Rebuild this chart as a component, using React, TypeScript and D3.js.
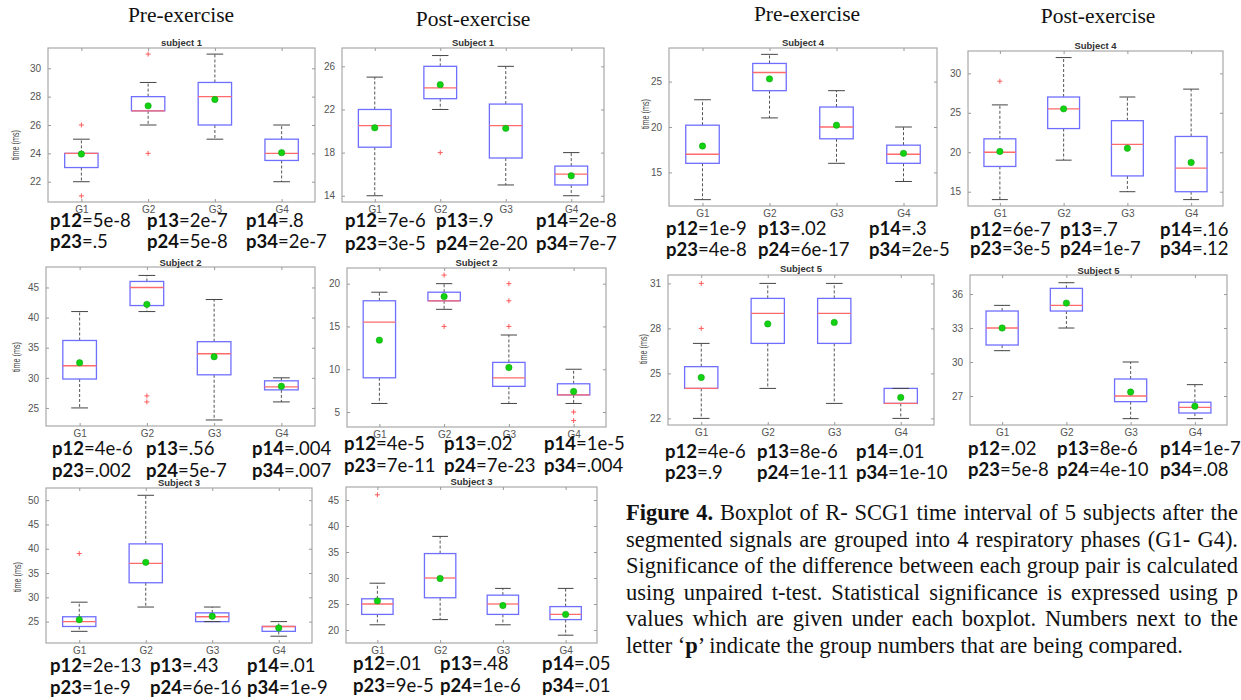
import React, { useEffect, useRef } from "react";
import * as d3 from "d3";

const groups = ["G1", "G2", "G3", "G4"];
const pairs = ["p12", "p13", "p14", "p23", "p24", "p34"];

// each group: [lower whisker, q1, median, q3, upper whisker, mean]
const pre1Stats = [[22, 23, 24, 24, 25, 23.95], [26, 27, 27, 28, 29, 27.35], [25, 26, 28, 29, 31, 27.8], [22, 23.5, 24, 25, 26, 24.05]];
const pre1Out = [[26, 21], [31, 24], [], []];
const pre1P = ["5e-8", "2e-7", ".8", ".5", "5e-8", "2e-7"];
const pre1Ticks = [22, 24, 26, 28, 30];

const post1Stats = [[14, 18.5, 20.5, 22, 25, 20.3], [22, 23, 24, 26, 27, 24.3], [15, 17.5, 20.5, 22.5, 26, 20.25], [14, 15, 16, 16.75, 18, 15.85]];
const post1Out = [[], [18], [], []];
const post1P = ["7e-6", ".9", "2e-8", "3e-5", "2e-20", "7e-7"];
const post1Ticks = [14, 18, 22, 26];

const pre2Stats = [[25, 29.8, 32, 36.2, 41, 32.5], [41, 42, 45, 46, 47, 42.2], [23, 30.5, 34, 36, 43, 33.5], [26, 28, 28.5, 29.5, 30, 28.6]];
const pre2Out = [[], [27, 26], [], []];
const pre2P = ["4e-6", ".56", ".004", ".002", "5e-7", ".007"];
const pre2Ticks = [25, 30, 35, 40, 45];

const post2Stats = [[6, 9, 15.5, 18, 19, 13.4], [17, 18, 18, 19, 20, 18.5], [6, 8, 9, 10.8, 14, 10.2], [6, 7, 7, 8.3, 10, 7.4]];
const post2Out = [[], [21, 15], [20, 18, 15], [5, 4]];
const post2P = ["4e-5", ".02", "1e-5", "7e-11", "7e-23", ".004"];
const post2Ticks = [5, 10, 15, 20];

const pre3Stats = [[23, 24, 25, 26, 29, 25.4], [28, 33, 37, 41, 51, 37.2], [25, 25, 26, 26.8, 28, 26.1], [22, 23, 24, 24, 25, 23.7]];
const pre3Out = [[39], [], [], []];
const pre3P = ["2e-13", ".43", ".01", "1e-9", "6e-16", "1e-9"];
const pre3Ticks = [25, 30, 35, 40, 45, 50];

const post3Stats = [[21, 23, 25, 26, 29, 25.6], [22, 26.2, 30, 34.7, 38, 29.9], [21, 23, 25, 26.7, 28, 24.7], [19, 22, 23, 24.5, 28, 23]];
const post3Out = [[46], [], [], []];
const post3P = [".01", ".48", ".05", "9e-5", "1e-6", ".01"];
const post3Ticks = [20, 25, 30, 35, 40, 45];

const pre4Stats = [[12, 16, 17, 20.2, 23, 17.9], [21, 24, 26, 27, 28, 25.3], [16, 18.7, 20, 22.2, 24, 20.2], [14, 16, 17, 18, 20, 17.1]];
const pre4Out = [[], [], [], []];
const pre4P = ["1e-9", ".02", ".3", "4e-8", "6e-17", "2e-5"];
const pre4Ticks = [15, 20, 25];

const post4Stats = [[14, 18.2, 20, 21.7, 26, 20.1], [19, 23, 25.5, 27, 32, 25.5], [15, 17, 21, 24, 27, 20.5], [14, 15, 18, 22, 28, 18.7]];
const post4Out = [[29], [], [], []];
const post4P = ["6e-7", ".7", ".16", "3e-5", "1e-7", ".12"];
const post4Ticks = [15, 20, 25, 30];

const pre5Stats = [[22, 24, 24, 25.45, 27, 24.73], [24, 27, 29, 30, 31, 28.3], [23, 27, 29, 30, 31, 28.4], [22, 23, 23, 24, 24, 23.4]];
const pre5Out = [[31, 28], [], [], []];
const pre5P = ["4e-6", "8e-6", ".01", ".9", "1e-11", "1e-10"];
const pre5Ticks = [22, 25, 28, 31];

const post5Stats = [[31, 31.5, 33, 34.5, 35, 33], [33, 34.5, 35, 36.5, 37, 35.2], [25, 26.5, 27, 28.5, 30, 27.35], [25, 25.5, 26, 26.45, 28, 26.1]];
const post5Out = [[], [], [], []];
const post5P = [".02", "8e-6", "1e-7", "5e-8", "4e-10", ".08"];
const post5Ticks = [27, 30, 33, 36];

const headers = ["Pre-exercise", "Post-exercise", "Pre-exercise", "Post-exercise"];

const captionLines = [
  [["Figure 4.", true], [" Boxplot of R- SCG1 time interval of 5 subjects after the", false]],
  [["segmented signals are grouped into 4 respiratory phases (G1- G4).", false]],
  [["Significance of the difference between each group pair is calculated", false]],
  [["using unpaired t-test. Statistical significance is expressed using p", false]],
  [["values which are given under each boxplot. Numbers next to the", false]],
  [["letter \u2018", false], ["p", true], ["\u2019 indicate the group numbers that are being compared.", false]],
];

// page layout (frame = [left, top, right, bottom])
const panels = [
  { stats: pre1Stats, out: pre1Out, p: pre1P, ticks: pre1Ticks, title: "subject 1", dom: [20.57, 31.43], frame: [48, 48, 315, 202], titleY: 42, yLab: [15, 145], pX: [50, 147, 246], pY: [227, 248] },
  { stats: post1Stats, out: post1Out, p: post1P, ticks: post1Ticks, title: "Subject 1", dom: [13.42, 27.7], frame: [342, 48, 604, 202], titleY: 42, yLab: null, pX: [345, 436, 536], pY: [227, 250] },
  { stats: pre2Stats, out: pre2Out, p: pre2P, ticks: pre2Ticks, title: "Subject 2", dom: [22.0, 48.4], frame: [46, 267, 315, 426], titleY: 262, yLab: [16, 357], pX: [52, 146, 252], pY: [455, 477] },
  { stats: post2Stats, out: post2Out, p: post2P, ticks: post2Ticks, title: "Subject 2", dom: [3.25, 21.83], frame: [347, 268, 606, 427], titleY: 262, yLab: null, pX: [344, 444, 544], pY: [450, 472] },
  { stats: pre3Stats, out: pre3Out, p: pre3P, ticks: pre3Ticks, title: "Subject 3", dom: [20.6, 52.5], frame: [46, 488, 312, 643], titleY: 482, yLab: [17, 577], pX: [50, 150, 247], pY: [672, 694] },
  { stats: post3Stats, out: post3Out, p: post3P, ticks: post3Ticks, title: "Subject 3", dom: [17.5, 47.5], frame: [346, 487, 597, 643], titleY: 481, yLab: null, pX: [353, 440, 542], pY: [670, 692] },
  { stats: pre4Stats, out: pre4Out, p: pre4P, ticks: pre4Ticks, title: "Subject 4", dom: [11.3, 28.7], frame: [669, 48, 937, 206], titleY: 42, yLab: [645, 114], pX: [666, 758, 869], pY: [235, 256] },
  { stats: post4Stats, out: post4Out, p: post4P, ticks: post4Ticks, title: "Subject 4", dom: [13.19, 32.83], frame: [968, 51, 1223, 206], titleY: 45, yLab: null, pX: [970, 1060, 1160], pY: [236, 255] },
  { stats: pre5Stats, out: pre5Out, p: pre5P, ticks: pre5Ticks, title: "Subject 5", dom: [21.56, 31.56], frame: [668, 275, 934, 425], titleY: 268, yLab: [643, 349], pX: [665, 757, 856], pY: [458, 479] },
  { stats: post5Stats, out: post5Out, p: post5P, ticks: post5Ticks, title: "Subject 5", dom: [24.44, 37.68], frame: [970, 275, 1227, 425], titleY: 270, yLab: null, pX: [968, 1057, 1160], pY: [455, 476] },
];
const headerPos = [[181, 22], [473, 26], [807, 21], [1098, 23]];

const App = () => {
  const svgRef = useRef(null);

  useEffect(() => {
    const svg = d3.select(svgRef.current);
    svg.selectAll("*").remove();

    svg.append("rect").attr("width", 1241).attr("height", 700).attr("fill", "white");

    // column headers
    svg.selectAll("text.hdr")
      .data(headers)
      .join("text")
      .attr("class", "hdr")
      .attr("x", (d, i) => headerPos[i][0])
      .attr("y", (d, i) => headerPos[i][1])
      .attr("text-anchor", "middle")
      .attr("font-family", "Liberation Serif")
      .attr("font-size", 21.5)
      .attr("fill", "#111")
      .text(d => d);

    panels.forEach(p => {
      const [x0, y0, x1, y1] = p.frame;
      const g = svg.append("g");
      const x = d3.scalePoint().domain(groups).range([x0, x1]).padding(0.5);
      const y = d3.scaleLinear().domain(p.dom).range([y1, y0]);
      const bw = x.step() * 0.5;

      g.append("rect")
        .attr("x", x0).attr("y", y0)
        .attr("width", x1 - x0).attr("height", y1 - y0)
        .attr("fill", "white").attr("stroke", "#a9a9a9").attr("stroke-width", 1.2);

      const styleAxis = (a) => {
        a.select(".domain").remove();
        a.selectAll("line").attr("stroke", "#9a9a9a");
        a.selectAll("text").attr("fill", "#555").attr("font-family", "Liberation Sans").attr("font-size", 10);
      };

      g.append("g").attr("transform", `translate(${x0},0)`)
        .call(d3.axisLeft(y).tickValues(p.ticks).tickSize(-3).tickPadding(7))
        .call(styleAxis);
      g.append("g").attr("transform", `translate(${x1},0)`)
        .call(d3.axisRight(y).tickValues(p.ticks).tickSize(-3).tickFormat(() => ""))
        .call(styleAxis);
      g.append("g").attr("transform", `translate(0,${y1})`)
        .call(d3.axisBottom(x).tickSize(-3).tickPadding(4))
        .call(styleAxis);
      g.append("g").attr("transform", `translate(0,${y0})`)
        .call(d3.axisTop(x).tickSize(-3).tickFormat(() => ""))
        .call(styleAxis);

      p.stats.forEach((s, i) => {
        const cx = x(groups[i]);
        const [lo, q1, med, q3, hi, mean] = s;
        // whiskers
        g.append("line").attr("x1", cx).attr("x2", cx).attr("y1", y(q3)).attr("y2", y(hi))
          .attr("stroke", "#555").attr("stroke-dasharray", "3,2");
        g.append("line").attr("x1", cx).attr("x2", cx).attr("y1", y(q1)).attr("y2", y(lo))
          .attr("stroke", "#555").attr("stroke-dasharray", "3,2");
        // box
        g.append("rect")
          .attr("x", cx - bw / 2).attr("y", y(q3))
          .attr("width", bw).attr("height", Math.max(0.5, y(q1) - y(q3)))
          .attr("fill", "none").attr("stroke", "#6f6fff").attr("stroke-width", 1.3);
        // caps
        [lo, hi].forEach(v => {
          g.append("line").attr("x1", cx - bw / 4).attr("x2", cx + bw / 4).attr("y1", y(v)).attr("y2", y(v))
            .attr("stroke", "#444").attr("stroke-width", 1);
        });
        // median
        g.append("line").attr("x1", cx - bw / 2).attr("x2", cx + bw / 2).attr("y1", y(med)).attr("y2", y(med))
          .attr("stroke", "#ff6b6b").attr("stroke-width", 1.3);
        // outliers
        p.out[i].forEach(v => {
          g.append("path")
            .attr("transform", `translate(${cx},${y(v)})`)
            .attr("d", "M-2.5,0H2.5M0,-2.5V2.5")
            .attr("stroke", "#ff5a5a").attr("stroke-width", 1);
        });
        // mean
        g.append("circle").attr("cx", cx).attr("cy", y(mean)).attr("r", 3.2)
          .attr("fill", "#12d312").attr("stroke", "#0b9a0b").attr("stroke-width", 0.5);
      });

      g.append("text")
        .attr("x", (x0 + x1) / 2).attr("y", p.titleY + 3.5)
        .attr("text-anchor", "middle")
        .attr("font-family", "Liberation Sans").attr("font-weight", "bold").attr("font-size", 9.5)
        .attr("fill", "#333")
        .text(p.title);

      if (p.yLab) {
        g.append("text")
          .attr("transform", `translate(${p.yLab[0]},${p.yLab[1]}) rotate(-90)`)
          .attr("text-anchor", "middle").attr("dy", "0.35em")
          .attr("font-family", "Liberation Sans").attr("font-size", 10)
          .attr("textLength", 30).attr("lengthAdjust", "spacingAndGlyphs")
          .attr("fill", "#444")
          .text("time (ms)");
      }

      pairs.forEach((name, i) => {
        const t = g.append("text")
          .attr("x", p.pX[i % 3]).attr("y", p.pY[Math.floor(i / 3)])
          .attr("font-family", "Lato").attr("font-size", 18.5).attr("fill", "#111");
        t.append("tspan").attr("font-weight", "bold").text(name);
        t.append("tspan").text("=" + p.p[i]);
      });
    });

    // caption, justified with word spacing
    captionLines.forEach((parts, i) => {
      const t = svg.append("text")
        .attr("x", 626).attr("y", 520 + i * 26.5)
        .attr("font-family", "Liberation Serif").attr("font-size", 22.5).attr("fill", "#111");
      parts.forEach(([str, bold]) => {
        t.append("tspan").attr("font-weight", bold ? "bold" : "normal").text(str);
      });
      if (i < captionLines.length - 1) {
        const len = t.node().getComputedTextLength();
        const spaces = parts.map(d => d[0]).join("").split(" ").length - 1;
        const extra = (612 - len) / spaces;
        t.attr("word-spacing", extra);
      }
    });
  }, []);

  return (
    <svg ref={svgRef} width={1241} height={700} style={{ position: "absolute", left: 0, top: 0 }} />
  );
};

export default App;
